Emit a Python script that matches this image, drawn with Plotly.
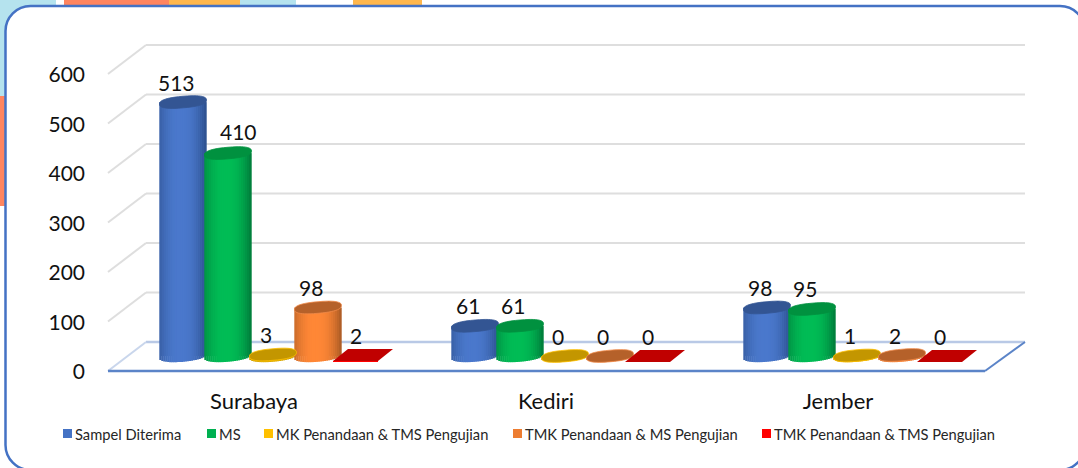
import math
import plotly.graph_objects as go

# ---- data ----
categories = ["Surabaya", "Kediri", "Jember"]
sampel_diterima = [513, 61, 98]
ms = [410, 61, 95]
mk_tms = [3, 0, 1]
tmk_ms = [98, 0, 2]
tmk_tms = [2, 0, 0]
y_ticks = [0, 100, 200, 300, 400, 500, 600]
series_names = ["Sampel Diterima", "MS", "MK Penandaan & TMS Pengujian",
                "TMK Penandaan & MS Pengujian", "TMK Penandaan & TMS Pengujian"]

# ---- styles ----
W, H = 1078, 468
FONT = "Lato, Carlito, 'Open Sans', sans-serif"
PX_X0, PX_PITCH = 273.0, 292.0      # pixel of category 0 and distance between categories
PX_Y0, PX_UNIT = 356.0, 0.495       # pixel of value 0 on the bar plane, pixels per unit
SERIES_DX = [-90, -45, 0, 45, 90]
HALF = 23.5
TILT, MINOR = 2.0, 5.8
LEG_X = [63, 207, 264, 513, 762]
LEG_COL = ["#4472C4", "#00B050", "#FFC000", "#ED7D31", "#FF0000"]
EDGE = ["#2C4F8C", "#007A3A", "#A98200", "#A85A24"]
MID = ["#4A78CC", "#00BC55", "#E0AE00", "#FF8736"]
TOP = ["#335593", "#00913F", "#C39600", "#B5612A"]
RIM = ["#2C4F8C", "#007A3A", "#FFC000", "#F08A4A"]
N_STRIPS = 24


def hx(c):
    return [int(c[i:i + 2], 16) for i in (1, 3, 5)]


def lerp(a, b, t):
    a, b = hx(a), hx(b)
    return "rgb(%d,%d,%d)" % tuple(round(a[i] + (b[i] - a[i]) * t) for i in range(3))


def px(p):   # pixel -> paper x
    return p / W


def py(p):   # pixel -> paper y
    return 1 - p / H


def ux(dp):  # pixels -> x units
    return dp / PX_PITCH


def uy(dp):  # pixels -> value units
    return dp / PX_UNIT


def line(x0, y0, x1, y1, color, width):
    return dict(type="line", xref="paper", yref="paper", layer="below",
                x0=px(x0), y0=py(y0), x1=px(x1), y1=py(y1),
                line=dict(color=color, width=width))


def rect(x0, y0, x1, y1, color):
    return dict(type="rect", xref="paper", yref="paper", layer="below",
                x0=px(x0), y0=py(y0), x1=px(x1), y1=py(y1),
                fillcolor=color, line=dict(width=0))


shapes = []
# page behind the rounded panel
shapes += [rect(0, 0, 56, 8, "#B5E3EE"), rect(64, 0, 169, 8, "#FF8560"), rect(169, 0, 240, 8, "#FFB74D"),
           rect(240, 0, 296, 8, "#B5E3EE"), rect(353, 0, 422, 8, "#FFB74D"),
           rect(0, 0, 30, 96, "#B5E3EE"), rect(0, 96, 8, 206, "#FF8560")]
# rounded panel (right and bottom edges lie just outside the picture)
L, T, R, B, RAD = 5.5, 6, 1085, 470, 25
K = RAD * 0.4477


def P(x, y):
    return f"{px(x):.5f},{py(y):.5f}"


panel = (f"M {P(L, T + RAD)} C {P(L, T + K)} {P(L + K, T)} {P(L + RAD, T)} "
         f"L {P(R - RAD, T)} C {P(R - K, T)} {P(R, T + K)} {P(R, T + RAD)} "
         f"L {P(R, B - RAD)} C {P(R, B - K)} {P(R - K, B)} {P(R - RAD, B)} "
         f"L {P(L + RAD, B)} C {P(L + K, B)} {P(L, B - K)} {P(L, B - RAD)} Z")
shapes.append(dict(type="path", xref="paper", yref="paper", layer="below", path=panel,
                   fillcolor="white", line=dict(color="#4472C4", width=2.5)))
# 3D box: walls and floor
for v in y_ticks[1:]:
    yb = 342 - v * PX_UNIT
    shapes.append(line(146, yb, 1025, yb, "#DEDEDE", 2))
    shapes.append(line(108, yb + 29, 146, yb, "#DEDEDE", 2))
shapes.append(line(146, 342, 1025, 342, "#B9C9E6", 2.5))
shapes.append(line(108, 371, 146, 342, "#C9D6EC", 2))
shapes.append(line(985, 371, 1025, 342, "#5B84C8", 2))
shapes.append(line(108, 371, 985, 371, "#5B84C8", 2.5))


def soft(a):
    return math.copysign(abs(a) ** 0.8, a)


def tilted_ellipse(cx_unit, value):
    pts = []
    for k in range(48):
        t = 2 * math.pi * k / 48
        cs, sn = soft(math.cos(t)), soft(math.sin(t))
        dx = HALF * cs
        dy = TILT * cs + MINOR * sn
        pts.append((cx_unit + ux(dx), value + uy(dy)))
    return "M " + " L ".join(f"{a:.5f},{b:.3f}" for a, b in pts) + " Z"


fig = go.Figure()
cat_x = list(range(len(categories)))
cyl_series = [sampel_diterima, ms, mk_tms, tmk_ms]
for s, vals in enumerate(cyl_series):
    off = ux(SERIES_DX[s])
    fig.add_trace(go.Bar(x=cat_x, y=vals, width=ux(2 * HALF - 1), offset=off - ux(HALF - 0.5),
                         marker=dict(color=EDGE[s], line=dict(width=0)),
                         name=series_names[s], showlegend=False, hoverinfo="skip"))
    for i in range(N_STRIPS):
        u = -1 + (2 * i + 1) / N_STRIPS
        foot = uy(TILT * u - MINOR * soft(math.sqrt(1 - u * u)))
        shade = 1 - min(1, abs(u + 0.1) / 1.1) ** 2.5
        fig.add_trace(go.Bar(x=cat_x, y=[v - foot for v in vals], base=foot,
                             width=ux(2 * HALF / N_STRIPS + 0.4),
                             offset=off + ux(HALF * u) - ux(HALF / N_STRIPS + 0.2),
                             marker=dict(color=lerp(EDGE[s], MID[s], shade), line=dict(width=0)),
                             showlegend=False, hoverinfo="skip"))
    for c, v in zip(cat_x, vals):
        shapes.append(dict(type="path", xref="x", yref="y", layer="above",
                           path=tilted_ellipse(c + off, v), fillcolor=TOP[s],
                           line=dict(color=RIM[s] if s >= 2 else TOP[s], width=0.8)))

# last series is drawn as a flat box
red_off = ux(SERIES_DX[4])
fig.add_trace(go.Bar(x=cat_x, y=tmk_tms, base=uy(-6), width=ux(45), offset=red_off - ux(30),
                     marker=dict(color="#FF0000", line=dict(width=0)),
                     name=series_names[4], showlegend=False, hoverinfo="skip"))
for c, v in zip(cat_x, tmk_tms):
    c0 = c + red_off
    lo, hi = v + uy(-6), v + uy(6)
    p = [(c0 - ux(30), lo), (c0 + ux(15), lo), (c0 + ux(30), hi), (c0 - ux(15), hi)]
    shapes.append(dict(type="path", xref="x", yref="y", layer="above",
                       path="M " + " L ".join(f"{a:.5f},{b:.3f}" for a, b in p) + " Z",
                       fillcolor="#C00000", line=dict(width=0)))

# data labels
annotations = []
for s, vals in enumerate(cyl_series + [tmk_tms]):
    for c, v in zip(cat_x, vals):
        moved = v == 410
        annotations.append(dict(x=c + ux(SERIES_DX[s]), y=v, xref="x", yref="y", text=str(v),
                                showarrow=False, xshift=10 if moved else -7, yshift=22 if moved else 20,
                                font=dict(family=FONT, size=21, color="#111111")))

# legend
for name, lx, col in zip(series_names, LEG_X, LEG_COL):
    shapes.append(rect(lx, 429, lx + 9, 438, col))
    annotations.append(dict(x=px(lx + 12), y=py(434), xref="paper", yref="paper", text=name,
                            xanchor="left", yanchor="middle", showarrow=False, xshift=-2,
                            font=dict(family=FONT, size=14.7, color="#262626")))

fig.update_layout(
    width=W, height=H, autosize=False,
    margin=dict(l=0, r=0, t=0, b=0),
    paper_bgcolor="white", plot_bgcolor="rgba(0,0,0,0)",
    barmode="overlay", showlegend=False,
    shapes=shapes, annotations=annotations,
    xaxis=dict(range=[-PX_X0 / PX_PITCH, (W - PX_X0) / PX_PITCH], domain=[0, 1],
               tickmode="array", tickvals=[c - 19 / PX_PITCH for c in cat_x], ticktext=categories,
               anchor="free", position=(H - 386) / H, showgrid=False, zeroline=False, showline=False,
               ticks="", tickfont=dict(family=FONT, size=22, color="#111111")),
    yaxis=dict(range=[(PX_Y0 - H) / PX_UNIT, PX_Y0 / PX_UNIT], domain=[0, 1],
               tickmode="array", tickvals=y_ticks, anchor="free", position=85 / W,
               showgrid=False, zeroline=False, showline=False, ticks="",
               ticklabelshift=16, tickfont=dict(family=FONT, size=21, color="#111111")),
)
fig.write_html("out.html", config=dict(displayModeBar=False),
               post_script="document.body.style.margin='0';document.body.style.overflow='hidden';")
